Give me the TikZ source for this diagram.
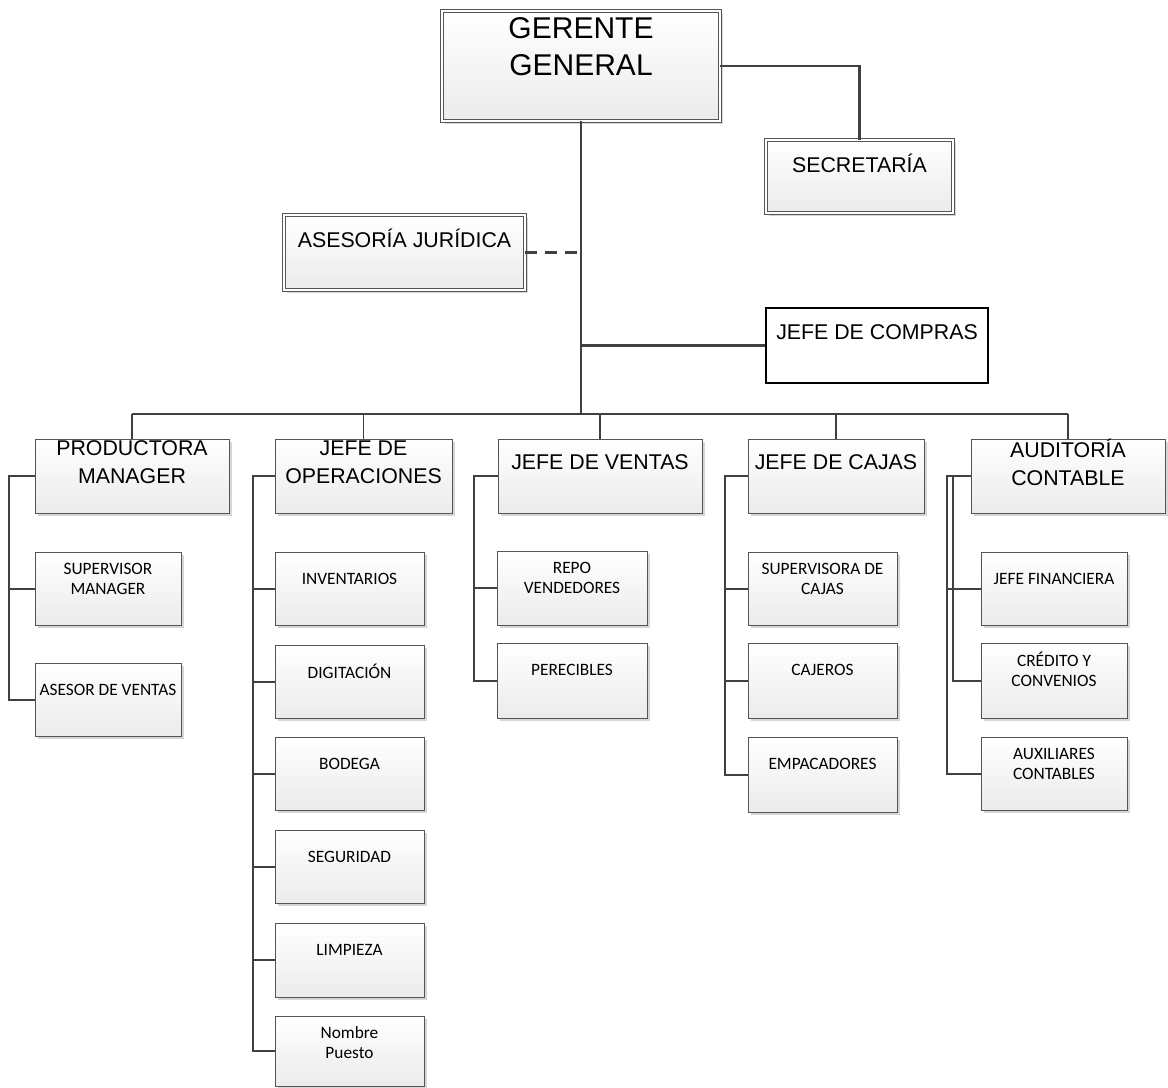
\documentclass[tikz,border=0pt]{standalone}
\usepackage{fontspec}
\setmainfont{Liberation Sans}
\newfontfamily\calibrifont{Carlito}
\usetikzlibrary{calc,fit,shadows}
\definecolor{lncol}{HTML}{404040}
\definecolor{bdcol}{HTML}{555555}
\definecolor{botcol}{HTML}{EBEBEB}
\definecolor{shcol}{HTML}{D6D6D6}
\tikzset{
 orgbox/.style={draw=bdcol, line width=0.6pt, top color=white, bottom color=botcol, inner sep=0pt,
   general shadow={shadow xshift=2.25pt, shadow yshift=-2.25pt, fill=shcol}},
 dblbox/.style={orgbox, double=white, double distance=1.6pt},
 plainbox/.style={draw=black, line width=0.8pt, fill=white, inner sep=0pt},
 bigtxt/.style={font=\fontsize{16}{21}\selectfont, align=center, inner sep=0pt},
 hugetxt/.style={font=\fontsize{22.5}{27.75}\selectfont, align=center, inner sep=0pt},
 smalltxt/.style={font=\calibrifont\fontsize{13}{15}\selectfont, align=center, inner sep=0pt},
 conn/.style={draw=lncol, line width=1.6pt},
 subconn/.style={draw=lncol, line width=1.5pt},
}
\newcommand\orgsub[6]{%
 \node[orgbox, fit={(#2,#3) (#4,#5)}] (#1) {};
 \node[smalltxt] (#1t) at ($(#1.north)+(0,27)$) {#6};}
\newcommand\orgtop[6]{%
 \node[orgbox, fit={(#2,#3) (#4,#5)}] (#1) {};
 \node[bigtxt] (#1t) at ($(#1.north)+(0,24)$) {#6};}
\begin{document}
\begin{tikzpicture}[x=0.75pt,y=-0.75pt]
\fill[white] (0,0) rectangle (1168,1088);
\useasboundingbox (0,0) rectangle (1168,1088);

% top part
\node[dblbox, fit={(442,11) (720,121)}] (ger) {};
\node[hugetxt] (gert) at ($(ger.north)+(0,36.5)$) {GERENTE\\GENERAL};
\node[dblbox, fit={(766,140) (953,213)}] (sec) {};
\node[bigtxt] (sect) at ($(sec.north)+(0,23.5)$) {SECRETARÍA};
\node[dblbox, fit={(284,215) (525,290)}] (ase) {};
\node[bigtxt] (aset) at ($(ase.north)+(0,23.5)$) {ASESORÍA JURÍDICA};
\node[plainbox, fit={(766,308) (988,383)}] (com) {};
\node[bigtxt] (comt) at ($(com.north)+(0,24.5)$) {JEFE DE COMPRAS};

% second level
\orgtop{prod}{35}{439}{229}{513}{PRODUCTORA\\MANAGER}
\orgtop{ops}{275}{439}{452}{513}{JEFE DE\\OPERACIONES}
\orgtop{ven}{498}{439}{702}{513}{JEFE DE VENTAS}
\orgtop{caj}{748}{439}{924}{513}{JEFE DE CAJAS}
\orgtop{aud}{971}{439}{1165}{513}{AUDITORÍA\\CONTABLE}

% third level
\orgsub{sup}{35}{552}{181}{625}{SUPERVISOR\\MANAGER}
\orgsub{asv}{35}{663}{181}{736}{ASESOR DE VENTAS}

\orgsub{inv}{275}{552}{424}{625}{INVENTARIOS}
\orgsub{dig}{275}{645}{424}{718}{DIGITACIÓN}
\orgsub{bod}{275}{737}{424}{810}{BODEGA}
\orgsub{seg}{275}{830}{424}{903}{SEGURIDAD}
\orgsub{lim}{275}{923}{424}{997}{LIMPIEZA}
\orgsub{nom}{275}{1016}{424}{1086}{Nombre\\Puesto}

\orgsub{rep}{497}{551}{647}{625}{REPO\\VENDEDORES}
\orgsub{per}{497}{643}{647}{718}{PERECIBLES}

\orgsub{svc}{748}{552}{897}{625}{SUPERVISORA DE\\CAJAS}
\orgsub{cje}{748}{643}{897}{718}{CAJEROS}
\orgsub{emp}{748}{737}{897}{812}{EMPACADORES}

\orgsub{jfi}{981}{552}{1127}{625}{JEFE FINANCIERA}
\orgsub{cre}{981}{643}{1127}{718}{CRÉDITO Y\\CONVENIOS}
\orgsub{aux}{981}{737}{1127}{810}{AUXILIARES\\CONTABLES}

% helper coordinates
\coordinate (busy) at (0,414);
\coordinate (busL) at (prod.north |- busy);
\coordinate (busR) at (aud.north |- busy);
\coordinate (px) at (9,0);
\coordinate (ox) at (253,0);
\coordinate (vx) at (474,0);
\coordinate (cx) at (725,0);
\coordinate (ax1) at (947,0);
\coordinate (ax2) at (953,0);

% top connectors
\draw[conn] (ger.south) -- (ger.south |- busy);
\draw[conn] (ger.east) -| (sec.north);
\draw[conn, dash pattern=on 9pt off 6pt] (ase.east) -- (ase.east -| ger.south);
\draw[conn] (ger.south |- com.west) -- (com.west);
\draw[conn, line width=1.9pt] (busL) -- (busR);
\foreach \n in {prod,ops,ven,caj,aud}{
  \draw[conn, line width=1.2pt] (\n.north |- busy) -- (\n.north);
}

% sub connectors
\draw[subconn] (prod.west) -- (prod.west -| px) |- (asv.west);
\draw[subconn] (sup.west -| px) -- (sup.west);

\draw[subconn] (ops.west) -- (ops.west -| ox) |- (nom.west);
\foreach \n in {inv,dig,bod,seg,lim}{
  \draw[subconn] (\n.west -| ox) -- (\n.west);
}

\draw[subconn] (ven.west) -- (ven.west -| vx) |- (per.west);
\draw[subconn] (rep.west -| vx) -- (rep.west);

\draw[subconn] (caj.west) -- (caj.west -| cx) |- (emp.west);
\foreach \n in {svc,cje}{
  \draw[subconn] (\n.west -| cx) -- (\n.west);
}

\draw[subconn] (aud.west) -- (aud.west -| ax1) |- (aux.west);
\draw[subconn] (aud.west -| ax2) |- (cre.west);
\draw[subconn] (jfi.west -| ax1) -- (jfi.west);
\end{tikzpicture}
\end{document}
